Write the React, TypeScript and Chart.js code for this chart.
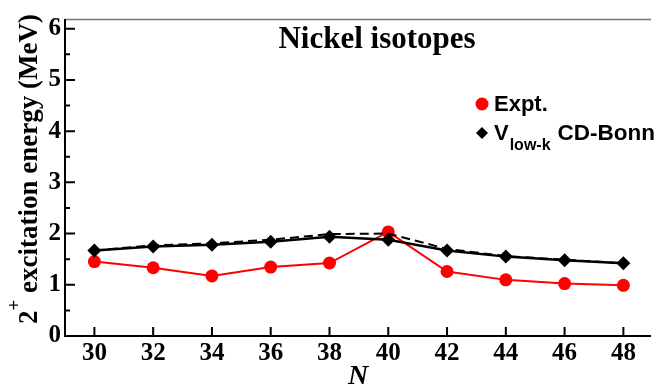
import React, { useEffect, useRef } from "react";
import { Chart, registerables } from "chart.js";

Chart.register(...registerables);

const nValues = [30, 32, 34, 36, 38, 40, 42, 44, 46, 48];
const exptValues = [1.454, 1.333, 1.173, 1.346, 1.425, 2.033, 1.259, 1.096, 1.024, 0.99];
const vlowkValues = [1.67, 1.75, 1.78, 1.84, 1.94, 1.88, 1.67, 1.55, 1.48, 1.42];
const dashedValues = [1.67, 1.77, 1.81, 1.88, 1.99, 2.0, 1.70, 1.56, 1.49, 1.42];
const xTicks = [30, 32, 34, 36, 38, 40, 42, 44, 46, 48];
const yTicks = [0, 1, 2, 3, 4, 5, 6];
const yMinorTicks = [0.5, 1.5, 2.5, 3.5, 4.5, 5.5];

const titleText = "Nickel isotopes";
const xTitle = "N";
const legendExpt = "Expt.";

const SERIF = "'Liberation Serif', 'Times New Roman', serif";
const SANS = "'Liberation Sans', Arial, sans-serif";

const framePlugin = {
  id: "framePlugin",
  afterDraw(chart: any) {
    const ctx = chart.ctx as CanvasRenderingContext2D;
    const area = chart.chartArea;
    const xs = chart.scales.x;
    const ys = chart.scales.y;
    ctx.save();
    // top border
    ctx.strokeStyle = "#777777";
    ctx.lineWidth = 1.5;
    ctx.beginPath();
    ctx.moveTo(area.left, area.top + 0.5);
    ctx.lineTo(area.right, area.top + 0.5);
    ctx.stroke();
    // axes
    ctx.strokeStyle = "#000";
    ctx.lineWidth = 2;
    ctx.beginPath();
    ctx.moveTo(area.left, area.top);
    ctx.lineTo(area.left, area.bottom);
    ctx.lineTo(area.right, area.bottom);
    ctx.stroke();
    // ticks
    ctx.lineWidth = 2;
    ctx.beginPath();
    yTicks.forEach((v) => {
      const y = ys.getPixelForValue(v);
      ctx.moveTo(area.left, y);
      ctx.lineTo(area.left + 10, y);
    });
    yMinorTicks.forEach((v) => {
      const y = ys.getPixelForValue(v);
      ctx.moveTo(area.left, y);
      ctx.lineTo(area.left + 5, y);
    });
    xTicks.forEach((v) => {
      const x = xs.getPixelForValue(v);
      ctx.moveTo(x, area.bottom);
      ctx.lineTo(x, area.bottom - 9);
    });
    ctx.stroke();

    // title
    ctx.fillStyle = "#000";
    ctx.font = `bold 31px ${SERIF}`;
    ctx.textAlign = "center";
    ctx.textBaseline = "alphabetic";
    ctx.fillText(titleText, 377, 48);

    // x title
    ctx.font = `italic bold 28px ${SERIF}`;
    ctx.fillText(xTitle, (area.left + area.right) / 2, 384);

    // y title
    ctx.save();
    const cy = 169;
    const bx = 37;
    ctx.translate(bx, cy);
    ctx.rotate(-Math.PI / 2);
    const mainFont = `bold 27px ${SERIF}`;
    const supFont = `bold 19px ${SERIF}`;
    ctx.font = mainFont;
    const w2 = ctx.measureText("2").width;
    const rest = " excitation energy (MeV)";
    const wRest = ctx.measureText(rest).width;
    ctx.font = supFont;
    const wSup = ctx.measureText("+").width;
    const total = w2 + wSup + wRest;
    let x0 = -total / 2;
    ctx.textAlign = "left";
    ctx.font = mainFont;
    ctx.fillText("2", x0, 0);
    x0 += w2;
    ctx.font = supFont;
    ctx.fillText("+", x0, -17);
    x0 += wSup;
    ctx.font = mainFont;
    ctx.fillText(rest, x0, 0);
    ctx.restore();

    // legend
    ctx.fillStyle = "#ff0000";
    ctx.beginPath();
    ctx.arc(482, 104, 6.5, 0, Math.PI * 2);
    ctx.fill();
    ctx.fillStyle = "#000";
    ctx.beginPath();
    ctx.moveTo(482, 127);
    ctx.lineTo(488, 133);
    ctx.lineTo(482, 139);
    ctx.lineTo(476, 133);
    ctx.closePath();
    ctx.fill();
    ctx.textAlign = "left";
    ctx.font = `bold 22px ${SANS}`;
    ctx.fillText(legendExpt, 494, 111);
    ctx.fillText("V", 494, 140);
    const wV = ctx.measureText("V").width;
    ctx.font = `bold 16px ${SANS}`;
    ctx.fillText("low-k", 494 + wV + 1, 150);
    const wSub = ctx.measureText("low-k").width;
    ctx.font = `bold 22.5px ${SANS}`;
    ctx.fillText("CD-Bonn", 494 + wV + 1 + wSub + 7, 140);
    ctx.restore();
  },
};

export default function App() {
  const ref = useRef<HTMLCanvasElement | null>(null);
  useEffect(() => {
    if (!ref.current) return;
    const chart = new Chart(ref.current, {
      type: "line",
      data: {
        datasets: [
          {
            label: "dashed",
            data: nValues.map((n, i) => ({ x: n, y: dashedValues[i] })),
            borderColor: "#000",
            borderWidth: 2,
            borderDash: [9, 5],
            pointRadius: 0,
            fill: false,
          },
          {
            label: "Vlow-k CD-Bonn",
            data: nValues.map((n, i) => ({ x: n, y: vlowkValues[i] })),
            borderColor: "#000",
            backgroundColor: "#000",
            borderWidth: 2.5,
            pointStyle: "rectRot",
            pointRadius: 7,
            pointBorderWidth: 0,
            fill: false,
          },
          {
            label: "Expt.",
            data: nValues.map((n, i) => ({ x: n, y: exptValues[i] })),
            borderColor: "#ff0000",
            backgroundColor: "#ff0000",
            borderWidth: 2,
            pointStyle: "circle",
            pointRadius: 6.5,
            pointBorderWidth: 0,
            fill: false,
          },
        ],
      },
      options: {
        responsive: false,
        animation: false,
        layout: { padding: { top: 5, right: 0, left: 0, bottom: 0 } },
        plugins: { legend: { display: false }, tooltip: { enabled: false }, title: { display: false } },
        scales: {
          x: {
            type: "linear",
            min: 29,
            max: 48.94,
            grid: { display: false, drawTicks: false },
            border: { display: false },
            afterBuildTicks: (s: any) => {
              s.ticks = xTicks.map((v) => ({ value: v }));
            },
            afterFit: (s: any) => {
              s.height = 55;
            },
            ticks: {
              autoSkip: false,
              maxRotation: 0,
              padding: 3,
              color: "#000",
              font: { family: SERIF, size: 25, weight: "bold" },
            },
          },
          y: {
            type: "linear",
            min: 0,
            max: 6.19,
            grid: { display: false, drawTicks: false },
            border: { display: false },
            afterBuildTicks: (s: any) => {
              s.ticks = yTicks.map((v) => ({ value: v }));
            },
            afterFit: (s: any) => {
              s.width = 65;
            },
            ticks: {
              autoSkip: false,
              padding: 4,
              color: "#000",
              font: { family: SERIF, size: 25, weight: "bold" },
            },
          },
        },
      },
      plugins: [framePlugin],
    } as any);
    return () => chart.destroy();
  }, []);
  return (
    <div style={{ position: "fixed", left: 0, top: 0, width: 658, height: 391, background: "#fff" }}>
      <canvas ref={ref} width={658} height={391} style={{ width: 658, height: 391, display: "block" }} />
    </div>
  );
}
